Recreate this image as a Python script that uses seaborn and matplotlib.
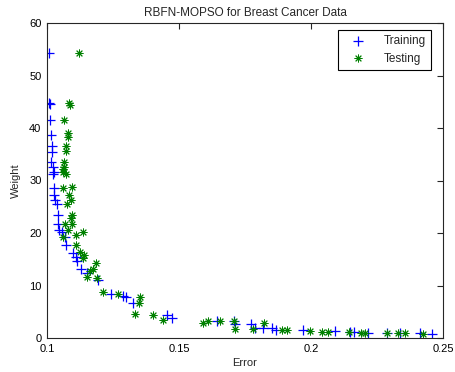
import matplotlib
matplotlib.use("Agg")
import matplotlib.pyplot as plt
import seaborn as sns
import pandas as pd

train_err = [0.1008, 0.1008, 0.1013, 0.1010, 0.1015, 0.1019, 0.1019, 0.1015, 0.1021, 0.1027,
             0.1024, 0.1027, 0.1027, 0.1030, 0.1037, 0.1043, 0.1043, 0.1047, 0.1056, 0.1068,
             0.1072, 0.1100, 0.1110, 0.1115, 0.1128, 0.1150, 0.1194, 0.1241, 0.1289, 0.1299,
             0.1327, 0.1453, 0.1472, 0.1644, 0.1708, 0.1714, 0.1773, 0.1786, 0.1820, 0.1851,
             0.1869, 0.1971, 0.2091, 0.2148, 0.2161, 0.2217, 0.2286, 0.2337, 0.2413, 0.2457]
train_w = [54.3, 44.8, 44.5, 41.5, 38.7, 36.6, 35.5, 33.6, 32.6, 31.7,
           31.2, 28.5, 27.2, 26.2, 25.5, 23.4, 21.8, 20.6, 20.2, 19.3,
           17.7, 16.1, 15.4, 14.6, 13.1, 12.3, 11.0, 8.4, 8.0, 7.9,
           6.6, 4.4, 3.75, 3.3, 3.3, 2.7, 2.7, 1.9, 1.9, 1.9,
           1.6, 1.5, 1.4, 1.2, 1.2, 1.0, 1.0, 1.0, 1.0, 0.8]

test_err = [0.1121, 0.1083, 0.1086, 0.1066, 0.1081, 0.1081, 0.1071, 0.1071, 0.1064, 0.1064,
            0.1060, 0.1072, 0.1062, 0.1062, 0.1094, 0.1084, 0.1090, 0.1075, 0.1094, 0.1090,
            0.1068, 0.1094, 0.1081, 0.1135, 0.1059, 0.1109, 0.1109, 0.1125, 0.1140, 0.1135,
            0.1186, 0.1173, 0.1163, 0.1153, 0.1190, 0.1211, 0.1270, 0.1352, 0.1348, 0.1333,
            0.1403, 0.1438, 0.1591, 0.1610, 0.1655, 0.1708, 0.1712, 0.1781, 0.1822, 0.1889,
            0.1910, 0.1996, 0.2040, 0.2065, 0.2145, 0.2191, 0.2205, 0.2286, 0.2331, 0.2356,
            0.2424]
test_w = [54.3, 44.8, 44.3, 41.5, 39.0, 38.2, 36.6, 35.7, 33.6, 32.6,
          32.1, 31.2, 31.7, 28.5, 28.7, 27.2, 26.2, 25.5, 23.4, 22.8,
          21.8, 21.8, 20.6, 20.2, 19.3, 19.6, 17.7, 16.3, 15.8, 15.2,
          14.2, 13.1, 12.8, 11.6, 11.4, 8.8, 8.4, 7.9, 6.6, 4.6,
          4.4, 3.5, 2.8, 3.3, 3.3, 3.3, 1.7, 1.7, 2.8, 1.5,
          1.5, 1.3, 1.2, 1.2, 1.2, 0.9, 0.9, 0.9, 1.0, 1.0,
          0.8]

x_ticks = [0.1, 0.15, 0.2, 0.25]
x_tick_labels = ["0.1", "0.15", "0.2", "0.25"]
y_ticks = [0, 10, 20, 30, 40, 50, 60]

sns.set_style("white")
plt.rcParams['font.family'] = ['Liberation Sans', 'DejaVu Sans']
plt.rcParams['font.size'] = 8

df_train = pd.DataFrame({"Error": train_err, "Weight": train_w})
df_test = pd.DataFrame({"Error": test_err, "Weight": test_w})

fig = plt.figure(figsize=(4.55, 3.72), dpi=100)
ax = fig.add_axes([47/455, 34/372, 396/455, 315/372])

sns.scatterplot(data=df_train, x="Error", y="Weight", ax=ax, marker="+", s=55,
                color=(0, 0, 1), linewidth=0.9, label="Training")
sns.scatterplot(data=df_test, x="Error", y="Weight", ax=ax, marker=(8, 2, 0), s=26,
                color=(0, 0.5, 0), linewidth=0.7, label="Testing")

ax.set_xlim(0.1, 0.25)
ax.set_ylim(0, 60)
ax.set_xticks(x_ticks)
ax.set_xticklabels(x_tick_labels)
ax.set_yticks(y_ticks)
ax.tick_params(direction="in", top=True, right=True, length=4, width=0.8,
               colors="#262626", labelcolor="black", labelsize=8, pad=4)
for sp in ax.spines.values():
    sp.set_visible(True)
    sp.set_color("#262626")
    sp.set_linewidth(0.8)
ax.set_xlabel("Error", fontsize=8, labelpad=3)
ax.set_ylabel("Weight", fontsize=8, labelpad=6)
ax.set_title("RBFN-MOPSO for Breast Cancer Data", fontsize=8.5, pad=5)

leg = ax.legend(loc="upper right", bbox_to_anchor=(0.970, 0.978), fontsize=8.5,
                frameon=True, fancybox=False, edgecolor="black", framealpha=1,
                borderaxespad=0, handlelength=2.4, handletextpad=1.0,
                borderpad=0.45, labelspacing=0.45)
leg.get_frame().set_linewidth(0.8)

fig.savefig("out.png", dpi=100, facecolor="white")
